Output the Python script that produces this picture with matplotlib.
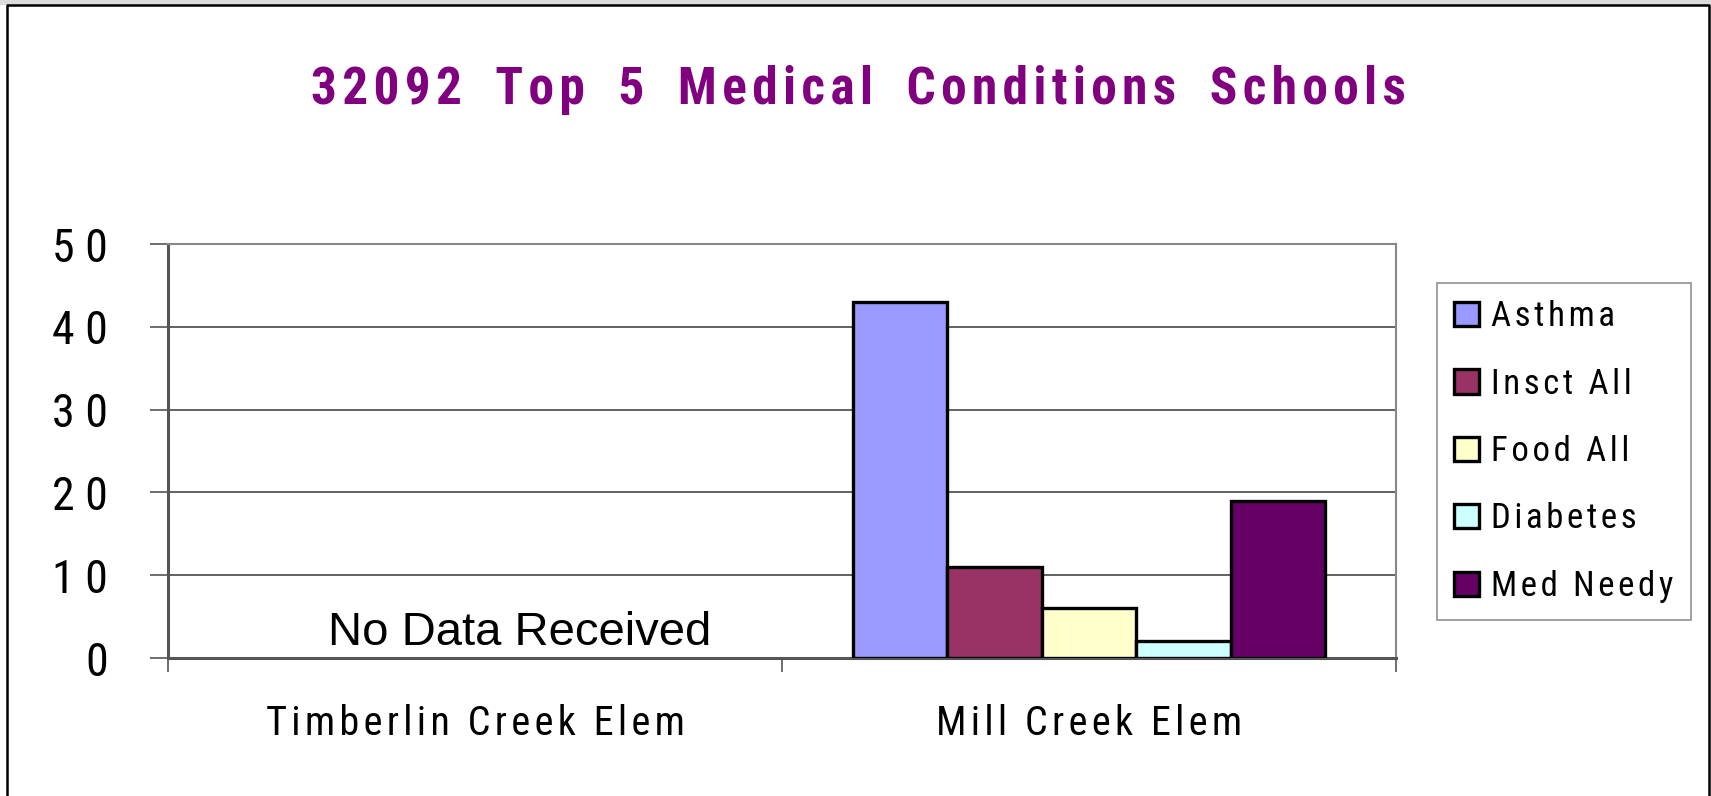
import numpy as np
import matplotlib.pyplot as plt
from matplotlib.lines import Line2D
from matplotlib.patches import Rectangle

# chart data
schools = ['Timberlin Creek Elem', 'Mill Creek Elem']
conditions = ['Asthma', 'Insct All', 'Food All', 'Diabetes', 'Med Needy']
asthma = [np.nan, 43]
insct_all = [np.nan, 11]
food_all = [np.nan, 6]
diabetes = [np.nan, 2]
med_needy = [np.nan, 19]
yticks = [0, 10, 20, 30, 40, 50]
colors = ['#9999FF', '#993366', '#FFFFCC', '#CCFFFF', '#660066']

narrow = ['Roboto Condensed', 'Liberation Sans Narrow', 'DejaVu Sans']
THIN = '\u2009'
HAIR = '\u200a'


def spaced(text, gap=' ', word_gap=None):
    # old excel charts draw their labels with wide letter spacing
    if word_gap is None:
        word_gap = gap + ' ' + gap
    return word_gap.join(gap.join(w) for w in text.split(' '))


fig = plt.figure(figsize=(17.11, 7.96), dpi=100)
fig.patch.set_facecolor('white')

# outer chart frame + grey strip on top
fig.add_artist(Rectangle((0, 1 - 5 / 796), 1, 5 / 796, transform=fig.transFigure,
                         facecolor='#dcdcdc', edgecolor='none'))
fig.add_artist(Line2D([7 / 1711, 7 / 1711, 1709 / 1711, 1709 / 1711],
                      [0, 1 - 5 / 796, 1 - 5 / 796, 0], transform=fig.transFigure,
                      color='black', lw=1.8))

ax = fig.add_axes([168 / 1711, 1 - 658 / 796, (1396 - 168) / 1711, (658 - 244) / 796])

series = [asthma, insct_all, food_all, diabetes, med_needy]
x = np.arange(len(schools))
w = 0.154
for i, vals in enumerate(series):
    ax.bar(x + (i - 2) * w, vals, w, color=colors[i], edgecolor='black',
           linewidth=2.4, label=spaced(conditions[i], HAIR), zorder=3)

ax.set_xlim(-0.5, len(schools) - 0.5)
ax.set_ylim(0, 50)
ax.set_yticks(yticks)
ax.set_yticklabels([spaced(str(v)) for v in yticks], family=narrow,
                   stretch='condensed', fontsize=33)
ax.tick_params(axis='y', length=13, width=1.2, color='#555555', pad=30)

# category boundaries get the ticks, names sit between them
ax.set_xticks(np.arange(len(schools) + 1) - 0.5)
ax.set_xticklabels([])
ax.set_xticks(x, minor=True)
ax.set_xticklabels([spaced(s, HAIR) for s in schools], minor=True,
                   family=narrow, stretch='condensed', fontsize=29)
ax.tick_params(axis='x', which='major', length=10, width=1.2, color='#555555')
ax.tick_params(axis='x', which='minor', length=0, pad=33)

ax.yaxis.grid(True, color='#555555', lw=1.3)
ax.set_axisbelow(True)
for side in ['left', 'bottom']:
    ax.spines[side].set_color('#555555')
    ax.spines[side].set_linewidth(2.2)
for side in ['top', 'right']:
    ax.spines[side].set_color('#888888')
    ax.spines[side].set_linewidth(1.5)

ax.text(0.073, 1.6, 'No Data Received', family=['Liberation Sans', 'DejaVu Sans'],
        fontsize=34, ha='center', va='baseline', zorder=4)

fig.text(858 / 1711, 1 - 90 / 796,
         spaced('32092 Top 5 Medical Conditions Schools', HAIR, '  ' + THIN),
         family=narrow, stretch='condensed', fontweight='bold', fontsize=37,
         color='#800080', ha='center', va='center')

leg = fig.legend(loc='upper left', bbox_to_anchor=(1437 / 1711, 1 - 283 / 796),
                 prop={'family': narrow, 'stretch': 'condensed', 'size': 25},
                 frameon=True, fancybox=False,
                 borderaxespad=0, borderpad=0.5, labelspacing=0.99,
                 handlelength=0.7, handleheight=0.7, handletextpad=0.35)
leg.get_frame().set_edgecolor('#808080')
leg.get_frame().set_linewidth(1.3)

plt.savefig('out.png', dpi=100)
